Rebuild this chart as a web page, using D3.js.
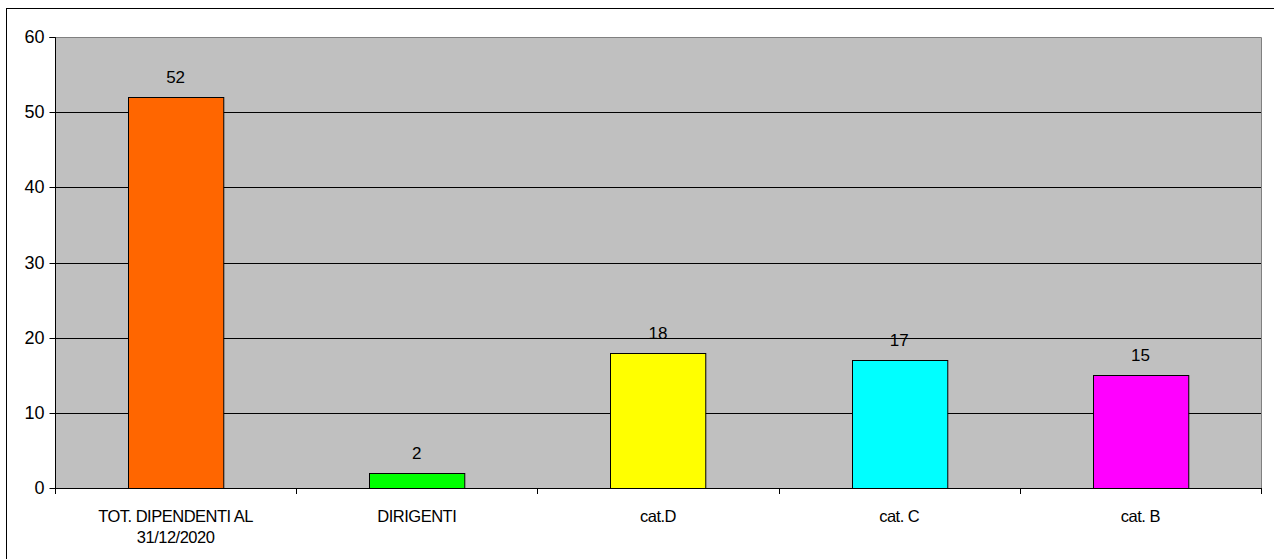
<!DOCTYPE html>
<html>
<head>
<meta charset="utf-8">
<script src="https://cdn.jsdelivr.net/npm/d3@7"></script>
<style>
  html, body { margin: 0; padding: 0; background: #fff; }
  svg { display: block; }
  text { font-family: "Liberation Sans", Arial, sans-serif; fill: #000; }
</style>
</head>
<body>
<svg id="chart" width="1274" height="559"></svg>
<script>
// Staff counts by category
const categories = ["TOT. DIPENDENTI AL\n31/12/2020", "DIRIGENTI", "cat.D", "cat. C", "cat. B"];
const values = [52, 2, 18, 17, 15];
const colors = ["#FF6600", "#00FF00", "#FFFF00", "#00FFFF", "#FF00FF"];
const yTicks = [0, 10, 20, 30, 40, 50, 60];

const svg = d3.select("#chart");
const W = 1274, H = 559;
const plot = { left: 55, top: 37, right: 1261, bottom: 488 };

// outer frame
svg.append("rect")
  .attr("x", 6.5).attr("y", 8.5)
  .attr("width", W + 10).attr("height", H + 10)
  .attr("fill", "#fff").attr("stroke", "#000").attr("stroke-width", 1);

const x = d3.scaleBand()
  .domain(categories)
  .range([plot.left, plot.right])
  .paddingInner(0.605).paddingOuter(0.3025);

const band = d3.scaleBand().domain(categories).range([plot.left, plot.right]);

const y = d3.scaleLinear().domain([0, 60]).range([plot.bottom, plot.top]);

// plot background
svg.append("rect")
  .attr("x", plot.left).attr("y", plot.top)
  .attr("width", plot.right - plot.left).attr("height", plot.bottom - plot.top)
  .attr("fill", "#C0C0C0");

// plot border (top / right) in gray
svg.append("path")
  .attr("d", `M${plot.left},${plot.top + 0.5}H${plot.right + 0.5}V${plot.bottom}`)
  .attr("fill", "none").attr("stroke", "#808080").attr("stroke-width", 1);

// horizontal gridlines
svg.append("g").selectAll("line")
  .data(yTicks.filter(d => d > 0 && d < 60))
  .join("line")
  .attr("x1", plot.left).attr("x2", plot.right)
  .attr("y1", d => Math.round(y(d)) + 0.5).attr("y2", d => Math.round(y(d)) + 0.5)
  .attr("stroke", "#000").attr("stroke-width", 1);

// bars
svg.append("g").selectAll("rect")
  .data(values)
  .join("rect")
  .attr("x", (d, i) => Math.round(x(categories[i])) + 0.5)
  .attr("y", d => Math.round(y(d)) + 0.5)
  .attr("width", x.bandwidth())
  .attr("height", d => Math.round(y(0)) - Math.round(y(d)))
  .attr("fill", (d, i) => colors[i])
  .attr("stroke", "#000").attr("stroke-width", 1);

// value labels
svg.append("g").selectAll("text")
  .data(values)
  .join("text")
  .attr("x", (d, i) => x(categories[i]) + x.bandwidth() / 2)
  .attr("y", d => y(d) - 14)
  .attr("text-anchor", "middle")
  .attr("font-size", 17)
  .text(d => d);

// y axis
const yAxis = d3.axisLeft(y).tickValues(yTicks).tickSize(6).tickPadding(5);
const gy = svg.append("g").attr("transform", `translate(${plot.left + 0.5},0)`).call(yAxis);
gy.select(".domain").attr("stroke", "#000").attr("d", `M-6,${Math.round(y(60)) + 0.5}H0V${plot.bottom + 0.5}`);
gy.selectAll(".tick line").attr("stroke", "#000");
gy.selectAll(".tick").attr("transform", d => `translate(0,${Math.round(y(d)) + 0.5})`);
gy.selectAll(".tick text")
  .attr("font-family", "Liberation Sans, Arial, sans-serif")
  .attr("font-size", 18).attr("letter-spacing", "0px").attr("fill", "#000");

// x axis line and boundary ticks
svg.append("line")
  .attr("x1", plot.left).attr("x2", plot.right + 1)
  .attr("y1", plot.bottom + 0.5).attr("y2", plot.bottom + 0.5)
  .attr("stroke", "#000");
const bounds = categories.map(c => band(c)).concat([plot.right]);
svg.append("g").selectAll("line")
  .data(bounds)
  .join("line")
  .attr("x1", d => Math.round(d) + 0.5).attr("x2", d => Math.round(d) + 0.5)
  .attr("y1", plot.bottom).attr("y2", plot.bottom + 6)
  .attr("stroke", "#000");

// category labels
const lab = svg.append("g").selectAll("text")
  .data(categories)
  .join("text")
  .attr("x", d => band(d) + band.bandwidth() / 2)
  .attr("y", 522)
  .attr("text-anchor", "middle")
  .attr("font-size", 16.5)
  .attr("letter-spacing", "-0.5px");
lab.each(function(d) {
  const lines = d.split("\n");
  d3.select(this).selectAll("tspan")
    .data(lines)
    .join("tspan")
    .attr("x", band(d) + band.bandwidth() / 2)
    .attr("dy", (l, i) => i === 0 ? 0 : 21)
    .text(l => l);
});
</script>
</body>
</html>
